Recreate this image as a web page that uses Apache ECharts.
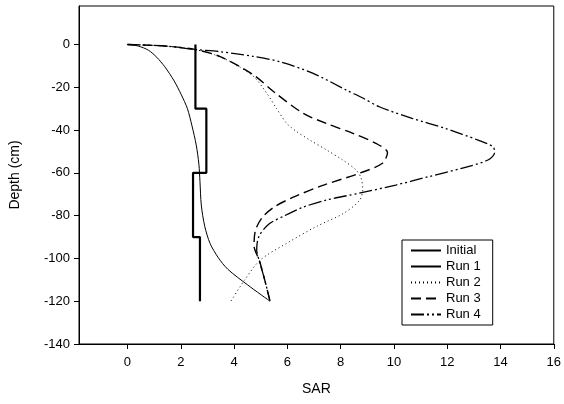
<!DOCTYPE html>
<html>
<head>
<meta charset="utf-8">
<script src="https://cdn.jsdelivr.net/npm/echarts@6/dist/echarts.min.js"></script>
<style>html,body{margin:0;padding:0;background:#fff}#c{width:564px;height:404px}</style>
</head>
<body>
<div id="c"></div>
<script>
// [SAR, Depth (cm)]
var initial = [[2.55,0],[2.55,-30],[2.96,-30],[2.96,-60],[2.46,-60],[2.46,-90],[2.72,-90],[2.72,-120]];
var run1 = [[0,0],[0.4,-0.7],[0.79,-2.7],[1.1,-6],[1.4,-10.4],[1.75,-17],[2.02,-23.5],[2.25,-30],[2.42,-38],[2.58,-47],[2.68,-56],[2.72,-64],[2.77,-75],[2.9,-85],[3.1,-93],[3.4,-99.5],[3.76,-105],[4.5,-112.3],[5.35,-120]];
var run2 = [[0,0],[1.5,-0.8],[2.5,-2.3],[3.2,-4.5],[3.88,-8.1],[4.74,-15.1],[5.24,-23],[5.6,-30],[5.98,-36.9],[6.36,-40.8],[6.85,-44.7],[7.47,-49.3],[8.08,-54],[8.58,-58.7],[8.77,-62.5],[8.83,-68],[8.7,-73],[8.1,-79],[7.1,-85],[5.98,-92.9],[4.99,-100.7],[4.4,-110],[3.88,-120]];
var run3 = [[0,0],[1.5,-0.8],[2.52,-2.3],[3.5,-5.8],[4.74,-14.3],[5.49,-22.1],[6.6,-32.2],[7.47,-36.9],[8.46,-41.5],[9.32,-46.2],[9.76,-50.5],[9.57,-55.5],[8.7,-60.2],[7.3,-66],[6.2,-71.5],[5.5,-76],[5.05,-81],[4.8,-87],[4.75,-94],[4.95,-101],[5.15,-110],[5.35,-120]];
var run4 = [[0,0],[1.5,-0.8],[2.52,-2.3],[3.5,-3.4],[4.7,-5.5],[5.73,-8.1],[6.97,-13.5],[8.21,-21.3],[8.83,-25],[9.45,-29.1],[10.68,-34.5],[11.92,-39.2],[13.16,-44.7],[13.72,-47.8],[13.78,-50.5],[13.53,-54],[12.54,-57.9],[11.3,-61.8],[10.07,-65.7],[8.7,-69.5],[7.47,-72.7],[6.6,-76],[5.9,-80],[5.3,-84],[4.93,-89.8],[4.85,-96],[4.97,-102],[5.15,-110],[5.35,-120]];
var seriesNames = ['Initial','Run 1','Run 2','Run 3','Run 4'];
var xTicks = [0,2,4,6,8,10,12,14,16];
var yTicks = [0,-20,-40,-60,-80,-100,-120,-140];

var chart = echarts.init(document.getElementById('c'), null, {renderer:'canvas'});
var font = 'Liberation Sans, Arial, sans-serif';
function mk(name, data, width, type, smooth) {
  return {name:name, type:'line', data:data, symbol:'none', showSymbol:false, smooth:smooth, animation:false,
    lineStyle:{color:'#000', width:width, type:type}, itemStyle:{color:'#000'}};
}
chart.setOption({
  animation:false,
  grid:{left:76, right:7, top:6, bottom:60, show:true, borderColor:'#000', borderWidth:1},
  legend:{
    data:seriesNames, orient:'vertical', left:402, top:240, itemWidth:30, itemHeight:12, itemGap:3,
    backgroundColor:'#fff', borderColor:'#000', borderWidth:1, padding:[4,12,4,8],
    itemStyle:{opacity:0},
    textStyle:{fontFamily:font, fontSize:13, color:'#000'}
  },
  xAxis:{type:'value', min:-1.82, max:16, splitNumber:9, name:'SAR', nameLocation:'middle', nameGap:38,
    nameTextStyle:{fontFamily:font, fontSize:14, color:'#000'},
    axisLine:{show:true, onZero:false, lineStyle:{color:'#000'}},
    axisTick:{show:true, length:5, lineStyle:{color:'#000'}},
    splitLine:{show:false},
    axisLabel:{showMinLabel:false, fontFamily:font, fontSize:13, color:'#000', margin:12,
      formatter:function(v){return xTicks.indexOf(Math.round(v*1000)/1000)>=0 ? String(v) : '';}}
  },
  yAxis:{type:'value', min:-140, max:18, interval:20, name:'Depth (cm)', nameLocation:'middle', nameGap:57,
    nameTextStyle:{fontFamily:font, fontSize:14, color:'#000'},
    axisLine:{show:true, onZero:false, lineStyle:{color:'#000'}},
    axisTick:{show:true, length:5, lineStyle:{color:'#000'}},
    splitLine:{show:false},
    axisLabel:{showMaxLabel:false, fontFamily:font, fontSize:13, color:'#000', margin:9,
      formatter:function(v){return yTicks.indexOf(v)>=0 ? String(v) : '';}}
  },
  series:[
    mk('Initial', initial, 2.2, 'solid', false),
    mk('Run 1', run1, 1, 'solid', 0.3),
    mk('Run 2', run2, 1, [1,3], 0.3),
    mk('Run 3', run3, 1.4, [10,5], 0.3),
    mk('Run 4', run4, 1.3, [13,3,2,3,2,3], 0.3)
  ]
});
</script>
</body>
</html>
